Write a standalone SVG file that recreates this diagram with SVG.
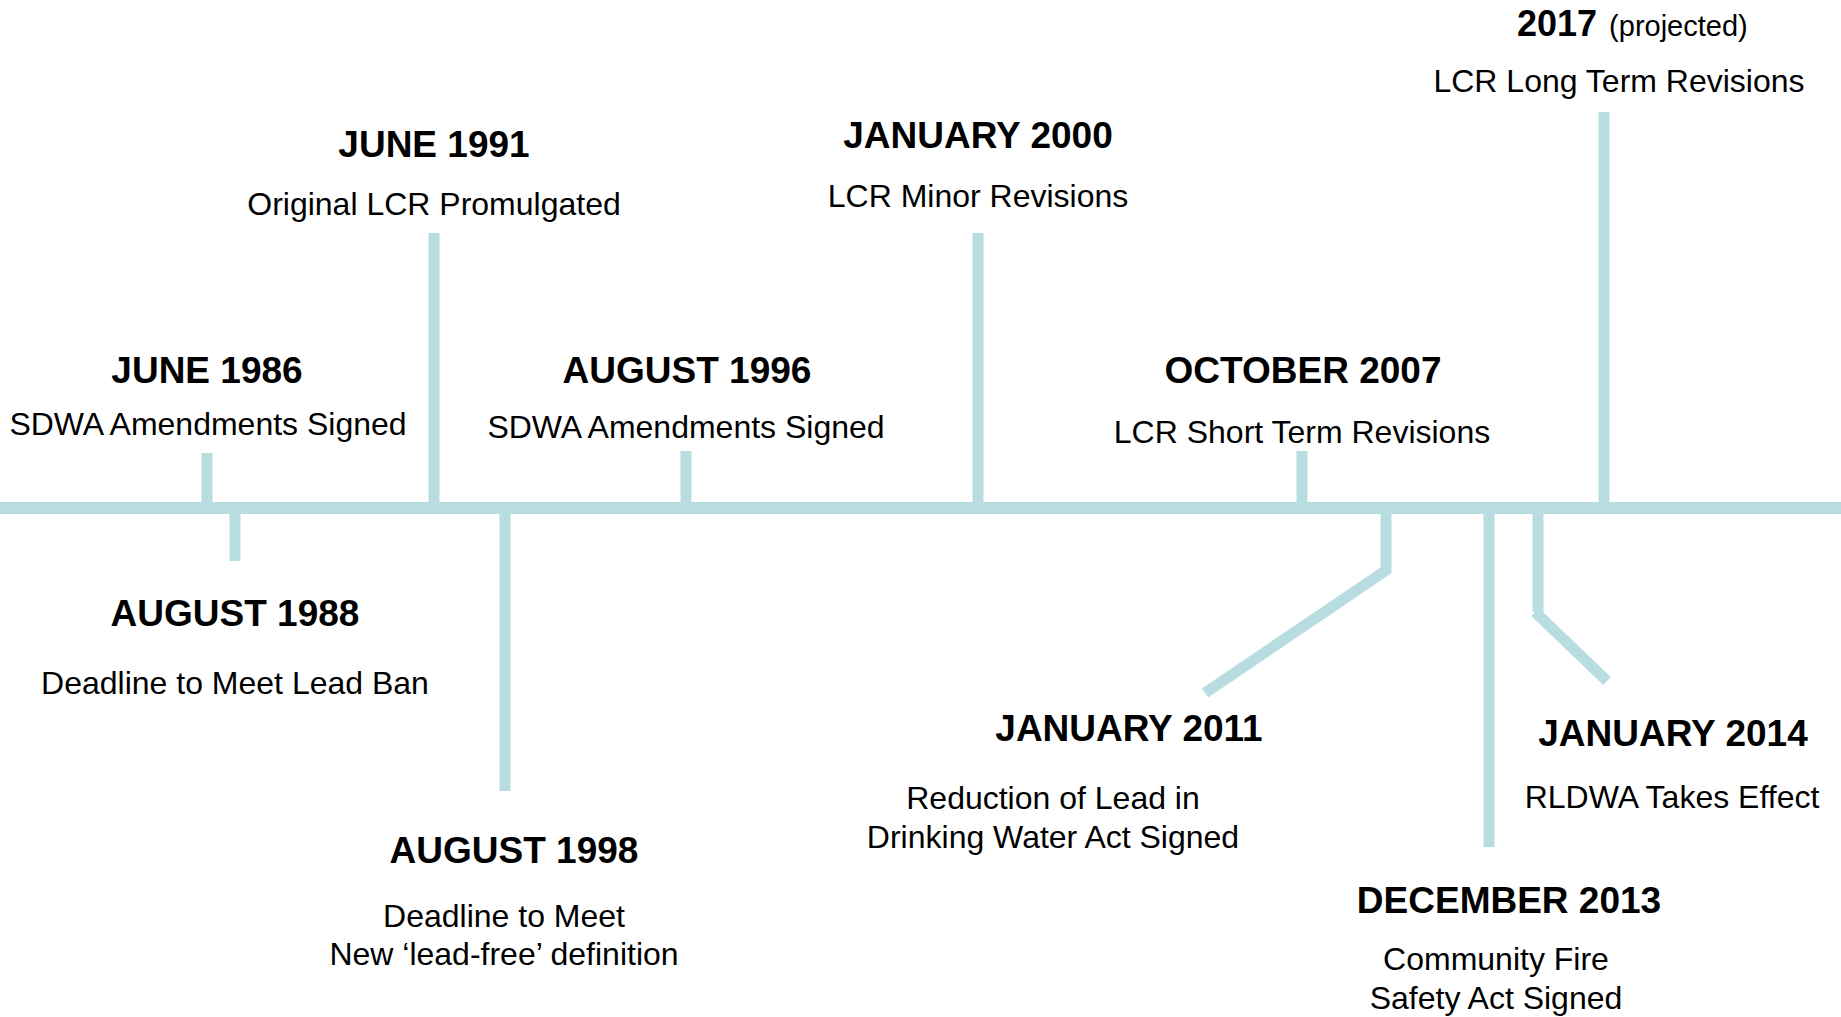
<svg xmlns="http://www.w3.org/2000/svg" width="1841" height="1017" viewBox="0 0 1841 1017">
<style>
.t{font-family:"Liberation Sans",Arial,sans-serif;font-weight:bold;font-size:37px;fill:#000;text-anchor:middle}
.s{font-family:"Liberation Sans",Arial,sans-serif;font-size:32px;fill:#000;text-anchor:middle}
.p{font-family:"Liberation Sans",Arial,sans-serif;font-size:29px;fill:#000}
.ln{stroke:#B7DDE0;stroke-width:11;fill:none;stroke-linecap:butt}
</style>
<rect width="1841" height="1017" fill="#fff"/>
<g id="connectors">
<line class="ln" x1="0" y1="508" x2="1841" y2="508" style="stroke-width:12"/>
<line class="ln" x1="207" y1="453" x2="207" y2="508"/>
<line class="ln" x1="235" y1="503" x2="235" y2="561"/>
<line class="ln" x1="434" y1="233" x2="434" y2="508"/>
<line class="ln" x1="505" y1="508" x2="505" y2="791"/>
<line class="ln" x1="686" y1="451" x2="686" y2="508"/>
<line class="ln" x1="978" y1="233" x2="978" y2="508"/>
<line class="ln" x1="1302" y1="451" x2="1302" y2="508"/>
<line class="ln" x1="1386" y1="508" x2="1386" y2="573"/>
<line class="ln" x1="1388" y1="569" x2="1205" y2="693"/>
<line class="ln" x1="1489" y1="503" x2="1489" y2="847"/>
<line class="ln" x1="1538" y1="508" x2="1538" y2="612"/>
<line class="ln" x1="1535" y1="612" x2="1607" y2="681"/>
<line class="ln" x1="1604" y1="112" x2="1604" y2="508"/>
</g>
<g id="e1986">
<text class="t" x="207" y="383">JUNE 1986</text>
<text class="s" x="208" y="435">SDWA Amendments Signed</text>
</g>
<g id="e1988">
<text class="t" x="235" y="626">AUGUST 1988</text>
<text class="s" x="235" y="694">Deadline to Meet Lead Ban</text>
</g>
<g id="e1991">
<text class="t" x="434" y="157">JUNE 1991</text>
<text class="s" x="434" y="215">Original LCR Promulgated</text>
</g>
<g id="e1996">
<text class="t" x="687" y="383">AUGUST 1996</text>
<text class="s" x="686" y="438">SDWA Amendments Signed</text>
</g>
<g id="e1998">
<text class="t" x="514" y="863">AUGUST 1998</text>
<text class="s" x="504" y="927">Deadline to Meet</text>
<text class="s" x="504" y="965">New ‘lead-free’ definition</text>
</g>
<g id="e2000">
<text class="t" x="978" y="148">JANUARY 2000</text>
<text class="s" x="978" y="207">LCR Minor Revisions</text>
</g>
<g id="e2007">
<text class="t" x="1303" y="383">OCTOBER 2007</text>
<text class="s" x="1302" y="443">LCR Short Term Revisions</text>
</g>
<g id="e2011">
<text class="t" x="1129" y="741">JANUARY 2011</text>
<text class="s" x="1053" y="809">Reduction of Lead in</text>
<text class="s" x="1053" y="848">Drinking Water Act Signed</text>
</g>
<g id="e2013">
<text class="t" x="1509" y="913">DECEMBER 2013</text>
<text class="s" x="1496" y="970">Community Fire</text>
<text class="s" x="1496" y="1009">Safety Act Signed</text>
</g>
<g id="e2014">
<text class="t" x="1673" y="746">JANUARY 2014</text>
<text class="s" x="1672" y="808">RLDWA Takes Effect</text>
</g>
<g id="e2017">
<text x="1517" y="36"><tspan class="t" style="text-anchor:start;font-size:36px">2017</tspan><tspan class="p" dx="12">(projected)</tspan></text>
<text class="s" x="1619" y="92">LCR Long Term Revisions</text>
</g>
</svg>
